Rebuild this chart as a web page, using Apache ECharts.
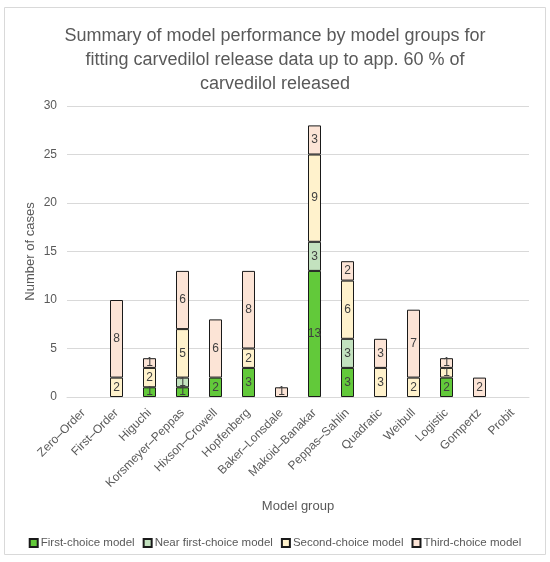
<!DOCTYPE html>
<html>
<head>
<meta charset="utf-8">
<script src="https://cdn.jsdelivr.net/npm/echarts@6/dist/echarts.min.js"></script>
<style>
html,body{margin:0;padding:0;background:#fff;}
#chart{width:550px;height:562px;}
</style>
</head>
<body>
<div id="chart"></div>
<script>
const categories = ['Zero–Order','First–Order','Higuchi','Korsmeyer–Peppas','Hixson–Crowell','Hopfenberg','Baker–Lonsdale','Makoid–Banakar','Peppas–Sahlin','Quadratic','Weibull','Logistic','Gompertz','Probit'];
const firstChoice     = [0,0,1,1,2,3,0,13,3,0,0,2,0,0];
const nearFirstChoice = [0,0,0,1,0,0,0,3,3,0,0,0,0,0];
const secondChoice    = [0,2,2,5,0,2,0,9,6,3,2,1,0,0];
const thirdChoice     = [0,8,1,6,6,8,1,3,2,3,7,1,2,0];
const seriesNames = ['First-choice model','Near first-choice model','Second-choice model','Third-choice model'];
const yTicks = [0,5,10,15,20,25,30];

const colors = ['#62c93a','#c3e2bf','#fff2cc','#fce4d6'];
const FONT = 'Liberation Sans';
const chart = echarts.init(document.getElementById('chart'));

function mk(name, arr, color){
  return {
    name: name, type: 'bar', stack: 'total', barWidth: 13,
    data: arr.map(v => v === 0 ? null : v),
    itemStyle: {color: color, borderColor: '#1a1a1a', borderWidth: 1},
    label: {show: true, position: 'inside', color: '#404040', fontSize: 12, fontFamily: FONT},
    emphasis: {disabled: true}
  };
}

chart.setOption({
  animation: false,
  title: {
    text: 'Summary of model performance by model groups for\nfitting carvedilol release data up to app. 60 % of\ncarvedilol released',
    left: 'center', top: 19,
    textStyle: {fontFamily: FONT, fontSize: 18, fontWeight: 'normal', color: '#595959', lineHeight: 24}
  },
  graphic: [{type: 'rect', shape: {x: 4.5, y: 7.5, width: 541, height: 547}, style: {fill: 'none', stroke: '#d9d9d9', lineWidth: 1}, z: -1}],
  legend: {
    bottom: 8, left: 'center', itemWidth: 8, itemHeight: 8, itemGap: 8,
    icon: 'rect',
    textStyle: {fontFamily: FONT, fontSize: 11.5, color: '#595959', padding: [0,0,0,-2]},
    data: seriesNames
  },
  grid: {left: 67, right: 21, top: 106, bottom: 165},
  xAxis: {
    type: 'category', data: categories,
    name: 'Model group', nameLocation: 'middle', nameGap: 103,
    nameTextStyle: {fontFamily: FONT, fontSize: 13, color: '#595959'},
    axisLine: {lineStyle: {color: '#d9d9d9'}},
    axisTick: {show: false},
    axisLabel: {rotate: 45, interval: 0, fontFamily: FONT, fontSize: 12, color: '#595959', margin: 14}
  },
  yAxis: {
    type: 'value', min: 0, max: 30, interval: 5,
    name: 'Number of cases', nameLocation: 'middle', nameGap: 30, nameMoveOverlap: false,
    nameTextStyle: {fontFamily: FONT, fontSize: 13, color: '#595959'},
    axisLabel: {fontFamily: FONT, fontSize: 12, color: '#595959', margin: 10,
      formatter: v => yTicks.includes(v) ? String(v) : ''},
    splitLine: {lineStyle: {color: '#d9d9d9'}},
    axisLine: {show: false}, axisTick: {show: false}
  },
  series: [
    mk(seriesNames[0], firstChoice, colors[0]),
    mk(seriesNames[1], nearFirstChoice, colors[1]),
    mk(seriesNames[2], secondChoice, colors[2]),
    mk(seriesNames[3], thirdChoice, colors[3])
  ]
});
</script>
</body>
</html>
